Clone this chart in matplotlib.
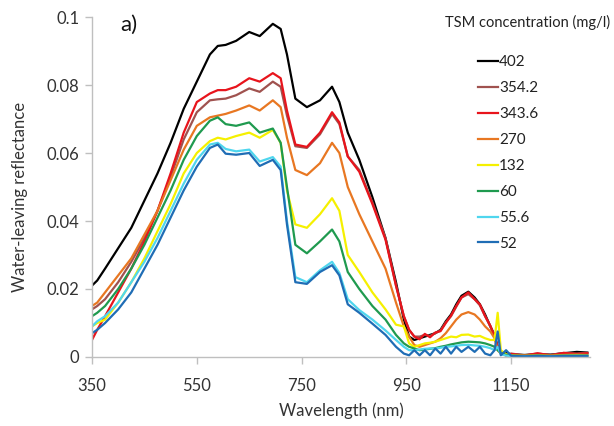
import matplotlib
matplotlib.use("Agg")
import matplotlib.pyplot as plt

plt.rcParams['font.family'] = ['Lato', 'DejaVu Sans']

wavelength = [350, 360, 375, 400, 425, 450, 475, 500, 525, 550, 575, 590, 605, 625, 650, 670, 695, 710,
              722, 738, 760, 785, 808, 822, 838, 860, 885, 910, 930, 945, 955, 965, 975, 985, 995, 1005,
              1015, 1025, 1035, 1045, 1055, 1068, 1080, 1090, 1100, 1110, 1118, 1124, 1130, 1140, 1150,
              1175, 1200, 1225, 1250, 1275, 1295]

tsm_402 = [0.021, 0.0225, 0.026, 0.032, 0.038, 0.046, 0.054, 0.063, 0.073, 0.081, 0.089, 0.0915, 0.0918, 0.093,
           0.0956, 0.0944, 0.098, 0.0965, 0.089, 0.076, 0.0735, 0.0755, 0.0795, 0.075, 0.066, 0.058, 0.047,
           0.035, 0.022, 0.011, 0.006, 0.005, 0.0055, 0.006, 0.0065, 0.007, 0.008, 0.0105, 0.0125, 0.0155,
           0.018, 0.0192, 0.0175, 0.0155, 0.0125, 0.009, 0.0065, 0.003, 0.001, 0.0012, 0.0008, 0.0006,
           0.0008, 0.0007, 0.0011, 0.0015, 0.0013]
tsm_354_2 = [0.014, 0.015, 0.017, 0.022, 0.028, 0.035, 0.043, 0.053, 0.064, 0.072, 0.0755, 0.0758, 0.076, 0.077,
             0.079, 0.078, 0.081, 0.0795, 0.071, 0.062, 0.0615, 0.0655, 0.0715, 0.0685, 0.059, 0.055, 0.0455,
             0.035, 0.021, 0.012, 0.008, 0.006, 0.006, 0.0065, 0.0062, 0.007, 0.0078, 0.0102, 0.012, 0.0148,
             0.0175, 0.0185, 0.017, 0.0152, 0.012, 0.009, 0.0062, 0.003, 0.001, 0.0006, 0.001, 0.0005,
             0.001, 0.0006, 0.0012, 0.001, 0.0012]
tsm_343_6 = [0.005, 0.008, 0.012, 0.019, 0.026, 0.034, 0.043, 0.054, 0.066, 0.075, 0.0775, 0.0785, 0.0785, 0.0795,
             0.082, 0.081, 0.0835, 0.082, 0.0725, 0.0625, 0.0618, 0.066, 0.072, 0.069, 0.059, 0.0545, 0.045,
             0.0345, 0.021, 0.012, 0.008, 0.006, 0.0052, 0.0068, 0.0058, 0.0072, 0.0076, 0.0100, 0.0122, 0.015,
             0.0175, 0.019, 0.017, 0.0155, 0.012, 0.0092, 0.006, 0.003, 0.0012, 0.0004, 0.0009, 0.0004,
             0.0011, 0.0005, 0.0012, 0.0009, 0.0011]
tsm_270 = [0.015, 0.016, 0.019, 0.024, 0.029, 0.036, 0.043, 0.052, 0.061, 0.068, 0.0705, 0.071, 0.0715, 0.0725,
           0.074, 0.0725, 0.0755, 0.0735, 0.0645, 0.055, 0.0535, 0.057, 0.063, 0.060, 0.050, 0.042, 0.034,
           0.026, 0.016, 0.009, 0.006, 0.0035, 0.003, 0.0035, 0.004, 0.0045, 0.0055, 0.007, 0.009, 0.011,
           0.0125, 0.0132, 0.0125, 0.011, 0.009, 0.0075, 0.0055, 0.002, 0.001, 0.0006, 0.0005, 0.0004,
           0.0005, 0.0004, 0.0006, 0.0007, 0.0006]
tsm_132 = [0.009, 0.010, 0.011, 0.016, 0.022, 0.029, 0.037, 0.045, 0.054, 0.060, 0.0635, 0.0645, 0.064, 0.065,
           0.066, 0.0645, 0.0668, 0.063, 0.049, 0.039, 0.038, 0.042, 0.0467, 0.043, 0.030, 0.025, 0.019,
           0.014, 0.0095, 0.009, 0.004, 0.003, 0.0035, 0.004, 0.0042, 0.0045, 0.005, 0.0055, 0.006, 0.0058,
           0.0065, 0.0066, 0.006, 0.0062, 0.0055, 0.005, 0.005, 0.013, 0.002, 0.0008, 0.0004, 0.0003,
           0.0004, 0.0003, 0.0004, 0.0005, 0.0004]
tsm_60 = [0.012, 0.013, 0.015, 0.020, 0.026, 0.033, 0.041, 0.049, 0.058, 0.065, 0.0695, 0.0705, 0.0685, 0.068,
          0.069, 0.066, 0.0672, 0.063, 0.050, 0.033, 0.0305, 0.034, 0.0375, 0.034, 0.025, 0.020, 0.015,
          0.011, 0.0065, 0.004, 0.003, 0.0025, 0.002, 0.0022, 0.0024, 0.0026, 0.003, 0.0033, 0.0037, 0.004,
          0.0043, 0.0045, 0.0044, 0.0043, 0.004, 0.0035, 0.003, 0.002, 0.0012, 0.0006, 0.0004, 0.0003,
          0.0004, 0.0003, 0.0004, 0.0004, 0.0004]
tsm_55_6 = [0.009, 0.0105, 0.012, 0.016, 0.022, 0.028, 0.035, 0.043, 0.051, 0.058, 0.0625, 0.063, 0.0612, 0.0605,
            0.061, 0.0575, 0.0588, 0.056, 0.040, 0.0235, 0.022, 0.0255, 0.028, 0.0247, 0.017, 0.0138, 0.011,
            0.0078, 0.005, 0.003, 0.002, 0.002, 0.0022, 0.0024, 0.0025, 0.0025, 0.0027, 0.003, 0.0031, 0.0033,
            0.0035, 0.0036, 0.0034, 0.0033, 0.003, 0.0026, 0.002, 0.003, 0.0008, 0.0004, 0.0003, 0.0002,
            0.0003, 0.0002, 0.0003, 0.0003, 0.0003]
tsm_52 = [0.007, 0.008, 0.010, 0.014, 0.019, 0.026, 0.033, 0.041, 0.049, 0.056, 0.0615, 0.0625, 0.0598, 0.0595,
          0.060, 0.0562, 0.058, 0.055, 0.039, 0.022, 0.0215, 0.025, 0.027, 0.024, 0.0155, 0.013, 0.0098,
          0.0065, 0.003, 0.001, 0.0005, 0.002, 0.0005, 0.002, 0.0005, 0.0025, 0.001, 0.003, 0.001, 0.003,
          0.0015, 0.003, 0.0015, 0.003, 0.001, 0.0005, 0.002, 0.0075, 0.0005, 0.002, 0.0003, 0.0002,
          0.0003, 0.0002, 0.0003, 0.0003, 0.0003]

series = [
    ("402", tsm_402, "#000000"),
    ("354.2", tsm_354_2, "#a0524f"),
    ("343.6", tsm_343_6, "#e8141c"),
    ("270", tsm_270, "#e87722"),
    ("132", tsm_132, "#f5f000"),
    ("60", tsm_60, "#1f9a4f"),
    ("55.6", tsm_55_6, "#4fd6ee"),
    ("52", tsm_52, "#1f6db5"),
]

x_ticks = [350, 550, 750, 950, 1150]
y_ticks = [0, 0.02, 0.04, 0.06, 0.08, 0.1]
y_tick_labels = ["0", "0.02", "0.04", "0.06", "0.08", "0.1"]

fig = plt.figure(figsize=(6.14, 4.26), dpi=100)
ax = fig.add_axes([0.1498, 0.162, 0.811, 0.798])

handles = []
for label, vals, color in series:
    h, = ax.plot(wavelength, vals, color=color, lw=1.6, label=label, solid_joinstyle='round')
    handles.append(h)

ax.set_xlim(350, 1300)
ax.set_ylim(0, 0.1)
ax.set_xticks(x_ticks)
ax.set_yticks(y_ticks)
ax.set_yticklabels(y_tick_labels)

for s in ['top', 'right']:
    ax.spines[s].set_visible(False)
for s in ['left', 'bottom']:
    ax.spines[s].set_color('#bfbfbf')
    ax.spines[s].set_linewidth(1.0)
ax.tick_params(axis='both', colors='#bfbfbf', labelcolor='#333333', labelsize=12,
               length=5, width=1.0, direction='out')
ax.tick_params(axis='x', pad=10)
ax.tick_params(axis='y', pad=4)

ax.set_xlabel("Wavelength (nm)", fontsize=12, color='#333333', labelpad=6)
ax.set_ylabel("Water-leaving reflectance", fontsize=12, color='#333333')
ax.yaxis.set_label_coords(-0.128, 0.47)

ax.text(403, 0.0976, "a)", fontsize=16, color='#111111', va='center', ha='left')

fig.text(0.724, 0.948, "TSM concentration (mg/l)", fontsize=10.5, color='#222222', va='center', ha='left')

leg = fig.legend(handles=handles, loc='upper left', bbox_to_anchor=(0.778, 0.870),
                 frameon=False, fontsize=11, handlelength=1.3, handletextpad=0.1,
                 labelspacing=0.78, borderpad=0, borderaxespad=0)
for t in leg.get_texts():
    t.set_color('#222222')

fig.savefig("out.png", dpi=100)
